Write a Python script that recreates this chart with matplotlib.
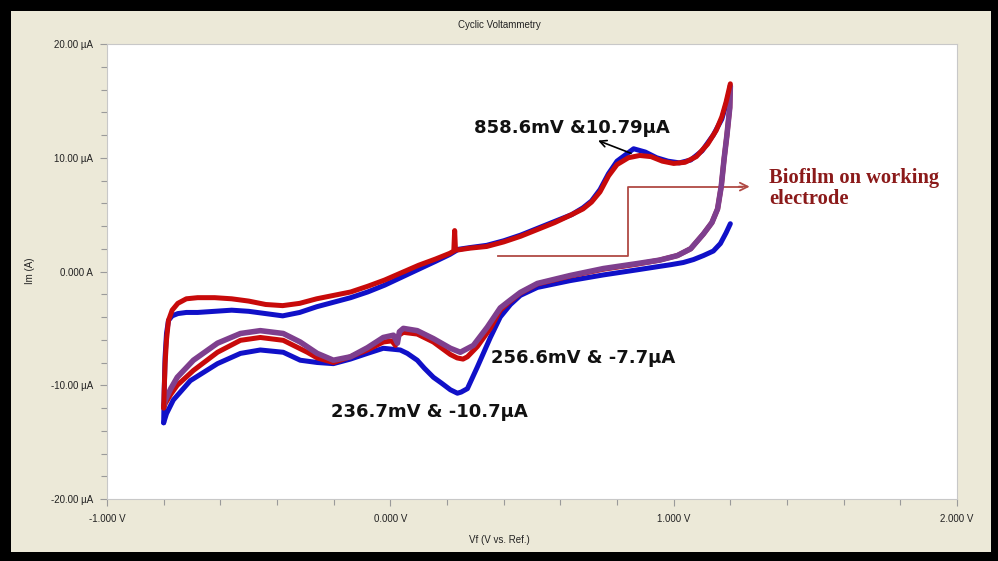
import matplotlib
matplotlib.use("Agg")
import matplotlib.pyplot as plt
from matplotlib.patches import Rectangle

# ---- Cyclic voltammetry data (potential in V, current in µA) ----
# forward (anodic) sweeps
red_fwd_v = [-0.800, -0.798, -0.795, -0.790, -0.783, -0.770, -0.750, -0.720, -0.680, -0.620,
             -0.560, -0.500, -0.440, -0.380, -0.320, -0.260, -0.200, -0.140, -0.080, -0.020,
             0.040, 0.100, 0.160, 0.210, 0.224, 0.227, 0.230, 0.240, 0.280, 0.340,
             0.400, 0.460, 0.520, 0.580, 0.640, 0.680, 0.710, 0.740, 0.770, 0.800,
             0.840, 0.880, 0.920, 0.960, 1.000, 1.040, 1.080, 1.120, 1.150, 1.170,
             1.185, 1.200]
red_fwd_i = [-12.0, -10.4, -8.1, -6.0, -4.3, -3.4, -2.8, -2.4, -2.3, -2.3,
             -2.4, -2.6, -2.9, -3.0, -2.8, -2.4, -2.1, -1.8, -1.3, -0.75,
             -0.1, 0.55, 1.1, 1.6, 1.8, 3.6, 1.9, 1.9, 2.05, 2.2,
             2.6, 3.1, 3.7, 4.3, 5.0, 5.5, 6.1, 7.0, 8.4, 9.4,
             10.0, 10.2, 10.1, 9.7, 9.5, 9.6, 10.1, 11.2, 12.4, 13.6,
             14.9, 16.5]

blue_fwd_v = [-0.800, -0.798, -0.795, -0.790, -0.783, -0.770, -0.750, -0.720, -0.680, -0.620,
              -0.560, -0.500, -0.440, -0.380, -0.320, -0.260, -0.200, -0.140, -0.080, -0.020,
              0.040, 0.100, 0.160, 0.210, 0.240, 0.280, 0.340, 0.400, 0.460, 0.520,
              0.580, 0.640, 0.680, 0.710, 0.740, 0.770, 0.800, 0.8586, 0.900, 0.940,
              0.980, 1.020, 1.060, 1.100, 1.140, 1.170, 1.185, 1.200]
blue_fwd_i = [-13.3, -10.4, -7.5, -5.45, -4.3, -3.9, -3.7, -3.6, -3.6, -3.5,
              -3.4, -3.5, -3.7, -3.9, -3.6, -3.1, -2.7, -2.3, -1.8, -1.2,
              -0.5, 0.2, 0.9, 1.5, 1.95, 2.1, 2.3, 2.7, 3.2, 3.8,
              4.4, 5.0, 5.6, 6.2, 7.2, 8.6, 9.7, 10.79, 10.5, 10.0,
              9.7, 9.55, 9.8, 10.6, 12.0, 13.4, 14.7, 16.2]

# reverse (cathodic) sweeps
blue_rev_v = [1.200, 1.185, 1.165, 1.140, 1.105, 1.070, 1.034, 0.990, 0.950, 0.872,
              0.752, 0.635, 0.519, 0.459, 0.424, 0.388, 0.353, 0.307, 0.272, 0.250,
              0.2367, 0.212, 0.180, 0.152, 0.120, 0.095, 0.060, 0.035, -0.025, -0.081,
              -0.141, -0.201, -0.258, -0.318, -0.378, -0.459, -0.529, -0.610, -0.706, -0.766,
              -0.790, -0.800]
blue_rev_i = [4.2, 3.4, 2.46, 1.8, 1.4, 1.05, 0.79, 0.6, 0.45, 0.15,
              -0.3, -0.8, -1.4, -2.1, -2.9, -4.0, -5.8, -8.4, -10.3, -10.6,
              -10.7, -10.4, -9.8, -9.3, -8.5, -7.8, -7.2, -6.9, -6.75, -7.2,
              -7.7, -8.1, -8.0, -7.8, -7.1, -6.9, -7.2, -8.1, -9.6, -11.3,
              -12.5, -13.3]

red_rev_v = [1.200, 1.198, 1.188, 1.178, 1.168, 1.155, 1.135, 1.105, 1.060, 1.013,
             0.950, 0.872, 0.752, 0.635, 0.519, 0.459, 0.424, 0.388, 0.353, 0.307,
             0.272, 0.2566, 0.236, 0.212, 0.152, 0.095, 0.046, 0.030, 0.018, 0.005,
             -0.025, -0.081, -0.141, -0.201, -0.258, -0.293, -0.378, -0.459, -0.529, -0.610,
             -0.695, -0.752, -0.775, -0.794, -0.800]
red_rev_i = [16.3, 14.4, 12.0, 9.9, 7.5, 5.5, 4.3, 3.3, 2.0, 1.4,
             1.0, 0.65, 0.2, -0.4, -1.1, -1.9, -2.6, -3.4, -5.0, -6.6,
             -7.5, -7.7, -7.6, -7.3, -6.2, -5.5, -5.35, -5.6, -6.5, -6.1,
             -6.2, -6.9, -7.5, -8.0, -7.6, -7.1, -6.05, -5.8, -6.05, -7.1,
             -8.7, -10.0, -10.8, -11.6, -12.0]

purple_rev_v = [1.200, 1.198, 1.188, 1.178, 1.168, 1.155, 1.135, 1.105, 1.060, 1.013,
                0.950, 0.872, 0.752, 0.635, 0.519, 0.459, 0.424, 0.388, 0.342, 0.293,
                0.247, 0.212, 0.152, 0.095, 0.046, 0.032, 0.025, 0.011, -0.025, -0.081,
                -0.141, -0.201, -0.258, -0.318, -0.378, -0.459, -0.529, -0.610, -0.695, -0.752,
                -0.775, -0.794, -0.800]
purple_rev_i = [16.3, 14.4, 12.0, 9.9, 7.5, 5.5, 4.3, 3.3, 2.0, 1.4,
                1.0, 0.70, 0.26, -0.35, -1.05, -1.84, -2.5, -3.2, -4.9, -6.5,
                -7.1, -6.75, -5.9, -5.2, -5.0, -5.3, -6.3, -5.6, -5.8, -6.7,
                -7.5, -7.8, -7.2, -6.2, -5.45, -5.2, -5.45, -6.3, -7.8, -9.3,
                -10.3, -11.3, -11.8]

# axis ticks
x_major = [-1.0, 0.0, 1.0, 2.0]
x_major_labels = ["-1.000 V", "0.000 V", "1.000 V", "2.000 V"]
y_major = [-20, -10, 0, 10, 20]
y_major_labels = ["-20.00 µA", "-10.00 µA", "0.000 A", "10.00 µA", "20.00 µA"]

# peak annotations
ox_peak_v, ox_peak_i = 0.8586, 10.79
red_peak_v, red_peak_i = 0.2566, -7.7
blue_peak_v, blue_peak_i = 0.2367, -10.7

W, H = 998, 561
fig = plt.figure(figsize=(W / 100, H / 100), dpi=100)
fig.patch.set_facecolor("black")

# beige instrument-software panel inside the black frame
panel = Rectangle((11 / W, 1 - 552 / H), (991 - 11) / W, (552 - 11) / H,
                  transform=fig.transFigure, facecolor="#ECE9D8",
                  edgecolor="none", zorder=-10)
fig.add_artist(panel)

ax = fig.add_axes([107 / W, 1 - 499 / H, 850 / W, 455 / H])
ax.set_zorder(1)
ax.set_facecolor("white")
ax.set_xlim(-1, 2)
ax.set_ylim(-20, 20)

tick_font = dict(family="Liberation Sans", size=7, color="#222222")
ax.set_xticks(x_major)
ax.set_xticklabels(x_major_labels, **tick_font)
ax.set_xticks([v / 10 for v in range(-10, 21, 2)], minor=True)
ax.set_yticks(y_major)
ax.set_yticklabels(y_major_labels, **tick_font)
ax.set_yticks(list(range(-20, 21, 2)), minor=True)
ax.tick_params(which="both", direction="out", color="#9A9A9A", width=0.8)
ax.tick_params(which="major", length=5, pad=5)
ax.tick_params(which="minor", length=4)
ax.tick_params(axis="x", which="major", pad=6)
ax.tick_params(top=False, right=False)
for side, sp in ax.spines.items():
    sp.set_color("#C8C8C8")
    sp.set_linewidth(0.8)

# voltammograms
line_kw = dict(solid_capstyle="round", solid_joinstyle="round")
ax.plot(blue_fwd_v, blue_fwd_i, color="#1010C8", lw=3.6, zorder=3, **line_kw)
ax.plot(blue_rev_v, blue_rev_i, color="#1010C8", lw=3.6, zorder=3, **line_kw)
ax.plot(red_rev_v, red_rev_i, color="#C80A0A", lw=3.6, zorder=4, **line_kw)
ax.plot(purple_rev_v, purple_rev_i, color="#7E3F8E", lw=4.0, zorder=5, **line_kw)
ax.plot(red_fwd_v, red_fwd_i, color="#C80A0A", lw=3.6, zorder=6, **line_kw)

label_font = dict(family="DejaVu Sans", weight="bold", size=13, color="#111111")
ax.text(0.2965, 12.63, f"{ox_peak_v * 1000:.1f}mV &{ox_peak_i:.2f}µA",
        va="center", ha="left", zorder=8, **label_font)
ax.annotate("", xy=(0.724, 11.6), xytext=(ox_peak_v, 10.3),
            arrowprops=dict(arrowstyle="->", color="black", lw=1.2,
                            mutation_scale=12), zorder=8)
ax.text(0.3565, -7.63, f"{red_peak_v * 1000:.1f}mV & {red_peak_i:.1f}µA",
        va="center", ha="left", zorder=8, **label_font)
ax.text(-0.208, -12.37, f"{blue_peak_v * 1000:.1f}mV & {blue_peak_i:.1f}µA",
        va="center", ha="left", zorder=8, **label_font)

# callout pointing to the biofilm note
call_c = "#B04A44"
ax.plot([0.381, 0.840, 0.840, 1.24], [1.40, 1.40, 7.46, 7.46], color=call_c,
        lw=1.3, zorder=2)
ax.annotate("", xy=(1.278, 7.46), xytext=(1.22, 7.46),
            arrowprops=dict(arrowstyle="->", color=call_c, lw=1.3,
                            mutation_scale=14), zorder=2)
ax.text(1.338, 7.28, "Biofilm on working\nelectrode", family="Liberation Serif",
        weight="bold", size=14.8, color="#8B1A1A", va="center", ha="left",
        linespacing=1.05, zorder=8)

# window texts
small = dict(family="Liberation Sans", size=7, color="#222222")
fig.text(0.5, 1 - 25 / H, "Cyclic Voltammetry", ha="center", va="center", **small)
fig.text(30 / W, 1 - 271 / H, "Im (A)", ha="center", va="center", rotation=90, **small)
fig.text(0.5, 1 - 540 / H, "Vf (V vs. Ref.)", ha="center", va="center", **small)

fig.savefig("out.png", dpi=100, facecolor=fig.get_facecolor())
